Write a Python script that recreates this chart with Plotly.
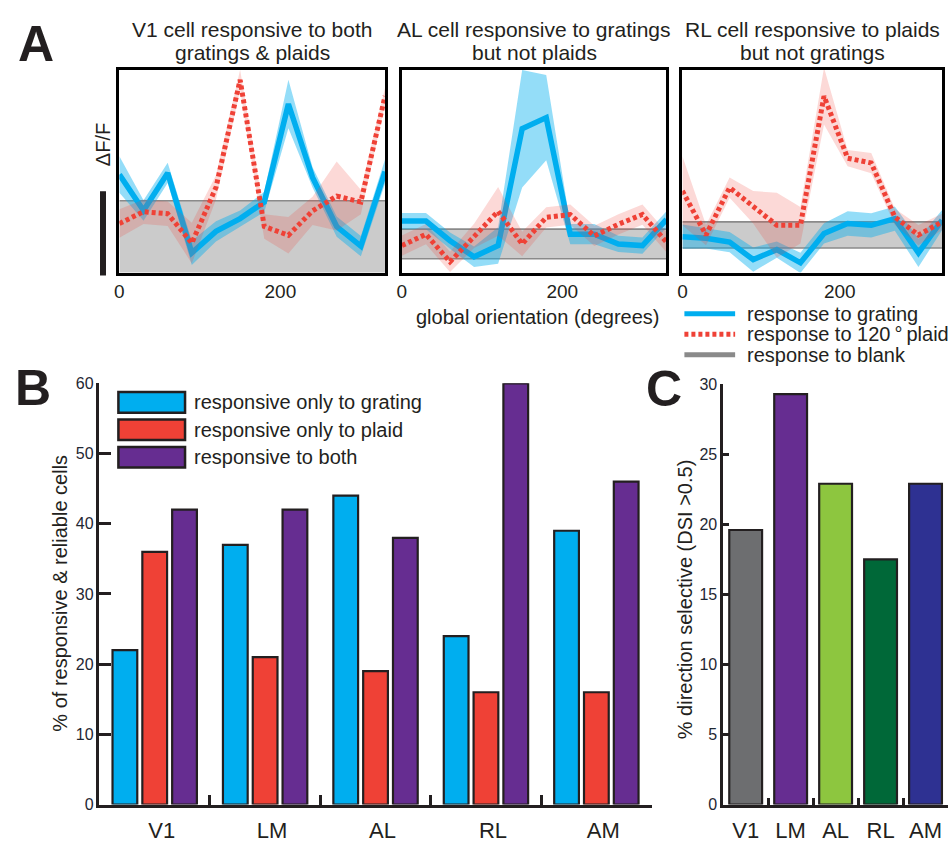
import plotly.graph_objects as go

# ---------------- data ----------------
orientation = [0, 30, 60, 90, 120, 150, 180, 210, 240, 270, 300, 330]
orient_ticks = [0, 200]

# Panel A (dF/F, arbitrary units; scale bar only)
v1_grating = [0.483, 0.306, 0.491, 0.097, 0.203, 0.266, 0.348, 0.831, 0.469, 0.227, 0.130, 0.498]
v1_grating_sem = [0.09, 0.05, 0.05, 0.06, 0.05, 0.04, 0.05, 0.12, 0.05, 0.05, 0.05, 0.06]
v1_plaid = [0.242, 0.300, 0.290, 0.145, 0.420, 0.950, 0.227, 0.184, 0.304, 0.377, 0.348, 0.870]
v1_plaid_sem = [0.07, 0.06, 0.06, 0.10, 0.06, 0.05, 0.06, 0.09, 0.07, 0.17, 0.06, 0.04]

al_grating = [0.254, 0.254, 0.157, 0.078, 0.133, 0.709, 0.764, 0.189, 0.189, 0.141, 0.133, 0.262]
al_grating_sem = [0.04, 0.04, 0.04, 0.05, 0.09, 0.29, 0.21, 0.05, 0.05, 0.04, 0.04, 0.04]
al_plaid = [0.133, 0.189, 0.053, 0.181, 0.302, 0.141, 0.272, 0.286, 0.181, 0.238, 0.286, 0.150]
al_plaid_sem = [0.05, 0.05, 0.05, 0.06, 0.12, 0.06, 0.05, 0.05, 0.05, 0.05, 0.05, 0.05]

rl_grating = [0.177, 0.169, 0.150, 0.064, 0.113, 0.048, 0.193, 0.242, 0.233, 0.266, 0.097, 0.258]
rl_grating_sem = [0.06, 0.05, 0.05, 0.06, 0.04, 0.05, 0.05, 0.06, 0.06, 0.06, 0.07, 0.05]
rl_plaid = [0.403, 0.185, 0.419, 0.322, 0.233, 0.233, 0.870, 0.564, 0.540, 0.274, 0.185, 0.250]
rl_plaid_sem = [0.17, 0.05, 0.05, 0.08, 0.16, 0.09, 0.14, 0.04, 0.05, 0.04, 0.05, 0.04]

blank_hi = [0.354, 0.214, 0.250]
blank_lo = [-0.05, 0.068, 0.121]

panel_a_titles = [
    ["V1 cell responsive to both", "gratings & plaids"],
    ["AL cell responsive to gratings", "but not plaids"],
    ["RL cell responsive to plaids", "but not gratings"],
]

# Panel B
areas = ["V1", "LM", "AL", "RL", "AM"]
pct_grating_only = [22, 37, 44, 24, 39]
pct_plaid_only = [36, 21, 19, 16, 16]
pct_both = [42, 42, 38, 60, 46]
b_series_names = ["responsive only to grating", "responsive only to plaid", "responsive to both"]

# Panel C
pct_direction_selective = [19.6, 29.3, 22.9, 17.5, 22.9]

# ---------------- style ----------------
W, H = 949, 844
FONT = "Liberation Sans, Arial, Helvetica, sans-serif"
INK = "#231f20"
BLUE = "#00aeef"
RED = "#ef4136"
PURPLE = "#662d91"
GRAY_LINE = "#8a8a8a"
C_COLORS = ["#6d6e70", "#662d91", "#8dc63f", "#006838", "#2e3192"]
DASH = "4px,3px"


def px(x):
    return x / W


def py(y):
    return 1 - y / H


fig = go.Figure()

cells = [
    (v1_grating, v1_grating_sem, v1_plaid, v1_plaid_sem),
    (al_grating, al_grating_sem, al_plaid, al_plaid_sem),
    (rl_grating, rl_grating_sem, rl_plaid, rl_plaid_sem),
]
a_xdomains = [(115, 382), (399, 665), (681, 942)]

for i, (g, gs, p, ps) in enumerate(cells):
    xa = "x" if i == 0 else f"x{i+1}"
    ya = "y" if i == 0 else f"y{i+1}"
    x0, x1 = orientation[0], orientation[-1]
    # blank band
    fig.add_trace(go.Scatter(x=[x0, x1, x1, x0], y=[blank_hi[i], blank_hi[i], blank_lo[i], blank_lo[i]],
                             fill="toself", fillcolor="rgba(175,175,175,0.65)", line=dict(width=0),
                             mode="lines", xaxis=xa, yaxis=ya, showlegend=False, hoverinfo="skip"))
    for yy in (blank_hi[i], blank_lo[i]):
        fig.add_trace(go.Scatter(x=[x0, x1], y=[yy, yy], mode="lines",
                                 line=dict(color=GRAY_LINE, width=1.6),
                                 xaxis=xa, yaxis=ya, showlegend=False, hoverinfo="skip"))
    # grating band + line
    up = [m + s for m, s in zip(g, gs)]
    lo = [m - s for m, s in zip(g, gs)]
    fig.add_trace(go.Scatter(x=orientation + orientation[::-1], y=up + lo[::-1], fill="toself",
                             fillcolor="rgba(0,174,239,0.42)", line=dict(width=0), mode="lines",
                             xaxis=xa, yaxis=ya, showlegend=False, hoverinfo="skip"))
    fig.add_trace(go.Scatter(x=orientation, y=g, mode="lines", line=dict(color=BLUE, width=5.5),
                             xaxis=xa, yaxis=ya, showlegend=False, name="response to grating"))
    # plaid band + line
    up = [m + s for m, s in zip(p, ps)]
    lo = [m - s for m, s in zip(p, ps)]
    fig.add_trace(go.Scatter(x=orientation + orientation[::-1], y=up + lo[::-1], fill="toself",
                             fillcolor="rgba(239,65,54,0.2)", line=dict(width=0), mode="lines",
                             xaxis=xa, yaxis=ya, showlegend=False, hoverinfo="skip"))
    fig.add_trace(go.Scatter(x=orientation, y=p, mode="lines",
                             line=dict(color=RED, width=5, dash=DASH),
                             xaxis=xa, yaxis=ya, showlegend=False, name="response to 120° plaid"))

# Panel B bars
b_colors = [BLUE, RED, PURPLE]
for name, vals, col in zip(b_series_names, [pct_grating_only, pct_plaid_only, pct_both], b_colors):
    fig.add_trace(go.Bar(x=areas, y=vals, name=name, marker=dict(color=col, line=dict(color=INK, width=2.2)),
                         xaxis="x4", yaxis="y4", showlegend=False))

# Panel C bars
fig.add_trace(go.Bar(x=areas, y=pct_direction_selective, width=0.73,
                     marker=dict(color=C_COLORS, line=dict(color=INK, width=2.2)),
                     xaxis="x5", yaxis="y5", showlegend=False))

layout = dict(
    width=W, height=H, margin=dict(l=0, r=0, t=0, b=0),
    paper_bgcolor="white", plot_bgcolor="white",
    font=dict(family=FONT, color=INK),
    barmode="group", bargap=0.19, bargroupgap=0.17,
    showlegend=False,
)

frame = dict(showline=True, mirror=True, linecolor="black", linewidth=2.5,
             showgrid=False, zeroline=False)
for i, (l, r) in enumerate(a_xdomains):
    k = "" if i == 0 else str(i + 1)
    layout["xaxis" + k] = dict(domain=[px(l), px(r)], range=[orientation[0], orientation[-1]],
                               tickvals=orient_ticks, ticks="", tickfont=dict(size=19, color=INK),
                               anchor="y" + k, **frame)
    layout["yaxis" + k] = dict(domain=[py(270), py(63)], range=[0, 1], showticklabels=False,
                               ticks="", anchor="x" + k, **frame)

axis_common = dict(showline=True, linecolor=INK, linewidth=2.5, showgrid=False, zeroline=False,
                   ticks="inside", tickcolor=INK, tickwidth=2.5)
layout["xaxis4"] = dict(domain=[px(95), px(650)], anchor="y4", type="category", tickson="boundaries",
                        ticklen=10, tickfont=dict(size=22, color=INK), ticklabelstandoff=4,
                        ticklabelshift=7, range=[-0.5, 4.5], **axis_common)
layout["yaxis4"] = dict(domain=[py(813), py(383)], anchor="x4", range=[0, 60], tickvals=[0, 10, 20, 30, 40, 50, 60],
                        ticklen=12, tickfont=dict(size=16, color="#1f2733"), **axis_common)
layout["xaxis5"] = dict(domain=[px(722), px(948)], anchor="y5", type="category", tickson="boundaries",
                        ticklen=7, tickfont=dict(size=22, color=INK), ticklabelstandoff=4,
                        range=[-0.5, 4.5], **axis_common)
layout["yaxis5"] = dict(domain=[py(813), py(384)], anchor="x5", range=[0, 30], tickvals=[0, 5, 10, 15, 20, 25, 30],
                        ticklen=6, tickfont=dict(size=16, color="#1f2733"), **axis_common)

annotations = []
shapes = []


def text(x, y, s, size=20, xanchor="center", angle=0, bold=False):
    annotations.append(dict(x=px(x), y=py(y), xref="paper", yref="paper", text=s, showarrow=False,
                            xanchor=xanchor, yanchor="middle", textangle=angle,
                            font=dict(size=size, family=FONT, color=INK, weight="bold" if bold else "normal")))


# panel letters
text(31, 36.5, "A", size=50, bold=True)
text(28, 387.5, "B", size=50, bold=True)
text(662, 389, "C", size=50, bold=True)

# panel A titles
for (l, r), (t1, t2) in zip(a_xdomains, panel_a_titles):
    cx = (l + r) / 2
    text(cx, 22, t1, size=21)
    text(cx, 45.5, t2, size=21)

text(536, 315, "global orientation (degrees)")
text(98.5, 139, "ΔF/F", angle=-90)

# scale bar
shapes.append(dict(type="line", xref="paper", yref="paper", x0=px(98.5), x1=px(98.5), y0=py(187), y1=py(273),
                   line=dict(color=INK, width=6)))

# panel A legend
a_leg = [("response to grating", BLUE, "solid", 312), ("response to 120\u2009°\u2009plaid", RED, DASH, 333),
         ("response to blank", GRAY_LINE, "solid", 354)]
for label, col, dash, yy in a_leg:
    shapes.append(dict(type="line", xref="paper", yref="paper", x0=px(683), x1=px(734), y0=py(yy), y1=py(yy),
                       line=dict(color=col, width=5, dash=dash)))
    text(744, yy, label, xanchor="left")

# panel B legend
for name, col, yy in zip(b_series_names, b_colors, [402.5, 430.5, 458.5]):
    shapes.append(dict(type="rect", xref="paper", yref="paper", x0=px(114), x1=px(181),
                       y0=py(yy + 10.5), y1=py(yy - 10.5), fillcolor=col, line=dict(color=INK, width=2.5)))
    text(188, yy, name, xanchor="left")

# axis titles
text(55, 597, "% of responsive & reliable cells", angle=-90)
text(683, 603, "% direction selective (DSI >0.5)", angle=-90)

layout["annotations"] = annotations
layout["shapes"] = shapes
fig.update_layout(**layout)
fig.write_html("out.html", config={"displayModeBar": False},
               post_script="document.body.style.margin='0';document.body.style.overflow='hidden';")
